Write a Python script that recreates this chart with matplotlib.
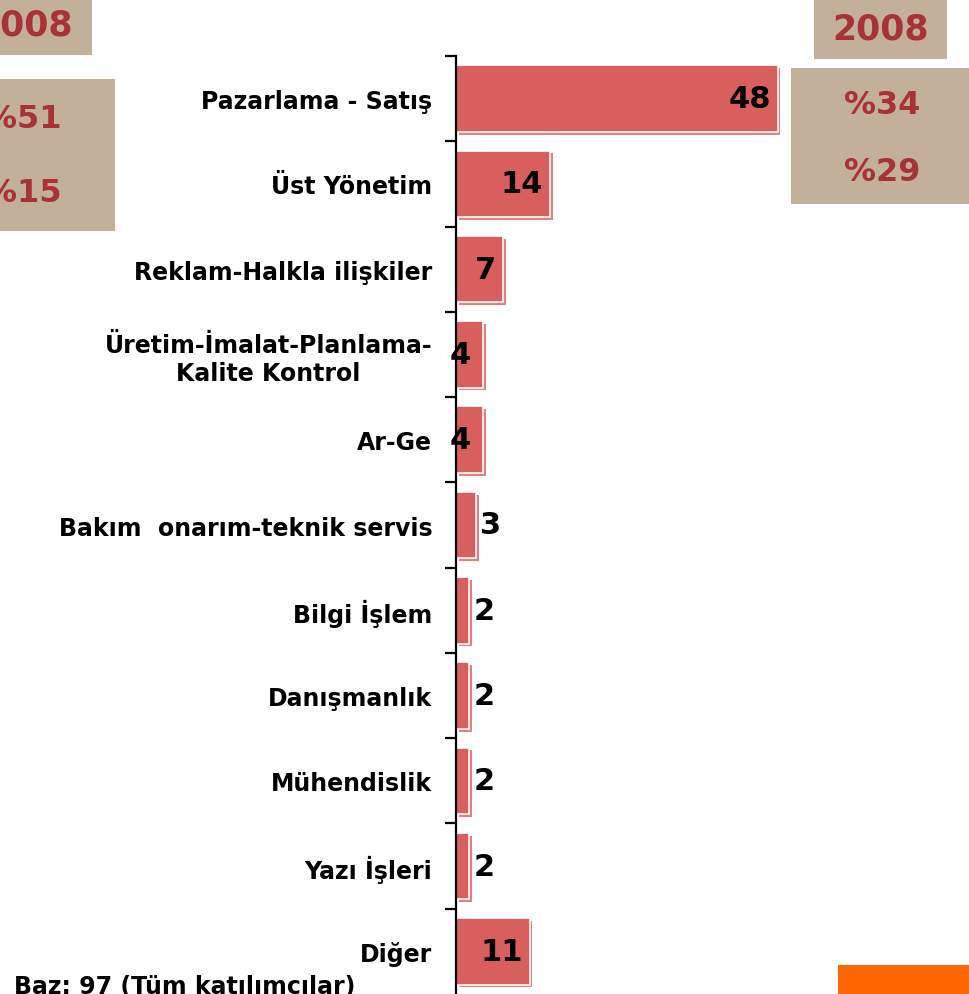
import numpy as np
import matplotlib
matplotlib.use("Agg")
import matplotlib.pyplot as plt
import matplotlib.patheffects as pe
from matplotlib.patches import Rectangle

# veri
kategoriler = ["Pazarlama - Satış", "Üst Yönetim", "Reklam-Halkla ilişkiler",
               "Üretim-İmalat-Planlama-\nKalite Kontrol", "Ar-Ge",
               "Bakım  onarım-teknik servis", "Bilgi İşlem", "Danışmanlık",
               "Mühendislik", "Yazı İşleri", "Diğer"]
degerler = [48, 14, 7, 4, 4, 3, 2, 2, 2, 2, 11]

sol_yil = "2008"
sol_yuzde = ["%51", "%15"]
sag_yil = "2008"
sag_yuzde = ["%34", "%29"]
baz_metni = "Baz: 97 (Tüm katılımcılar)"

W, H = 970, 995
BAR = "#d95e5e"
TAN = "#c2b09a"
KIRMIZI = "#a83236"

plt.rcParams['font.family'] = ['DejaVu Sans']

fig = plt.figure(figsize=(W / 100, H / 100), dpi=100)
fig.patch.set_facecolor("white")


def fx(px):
    return px / W


def fy(py):
    return 1 - py / H


# ana grafik
ax = fig.add_axes([fx(456), fy(995), fx(402), (995 - 57) / H])
y = np.arange(len(kategoriler))
bars = ax.barh(y, degerler, height=0.78, color=BAR, edgecolor="white", linewidth=1.2)
for b in bars:
    b.set_path_effects([pe.SimplePatchShadow(offset=(2, -2), shadow_rgbFace="#e57f7f", alpha=1.0),
                        pe.Normal()])

ax.set_xlim(0, 60)
ax.set_ylim(len(kategoriler) - 0.5, -0.5)
for s in ["top", "right", "bottom"]:
    ax.spines[s].set_visible(False)
ax.spines["left"].set_linewidth(1.6)
ax.set_xticks([])
ax.set_yticks(np.arange(len(kategoriler)) - 0.5)
ax.set_yticklabels([])
ax.tick_params(axis="y", which="major", length=8, width=1.6, direction="out")
ax.set_yticks(y, minor=True)
ax.set_yticklabels(kategoriler, minor=True, fontsize=17, fontweight="bold",
                   multialignment="center")
ax.tick_params(axis="y", which="minor", length=0, pad=17)

for yi, v in zip(y, degerler):
    if v >= 7:
        ax.text(v - 1.0, yi, str(v), ha="right", va="center", fontsize=22, fontweight="bold")
    elif v == 4:
        ax.text(-1.0, yi, str(v), ha="left", va="center", fontsize=22, fontweight="bold")
    else:
        ax.text(v + 0.6, yi, str(v), ha="left", va="center", fontsize=22, fontweight="bold")

# kutular
fig.patches.append(Rectangle((fx(0), fy(56)), fx(92), 56 / H, transform=fig.transFigure,
                             facecolor=TAN, edgecolor="none", zorder=0))
fig.patches.append(Rectangle((fx(0), fy(232)), fx(115), (232 - 80) / H, transform=fig.transFigure,
                             facecolor=TAN, edgecolor="none", zorder=0))
fig.patches.append(Rectangle((fx(814), fy(60)), fx(133), 60 / H, transform=fig.transFigure,
                             facecolor=TAN, edgecolor="none", zorder=0))
fig.patches.append(Rectangle((fx(791), fy(205)), fx(179), (205 - 69) / H, transform=fig.transFigure,
                             facecolor=TAN, edgecolor="none", zorder=0))
fig.patches.append(Rectangle((fx(838), fy(995)), fx(132), 29 / H, transform=fig.transFigure,
                             facecolor="#ff6600", edgecolor="none", zorder=0))

fig.text(fx(73), fy(25), sol_yil, ha="right", va="center", fontsize=25, fontweight="bold", color=KIRMIZI)
for t, py in zip(sol_yuzde, [120, 193]):
    fig.text(fx(62), fy(py), t, ha="right", va="center", fontsize=23, fontweight="bold", color=KIRMIZI)
fig.text(fx(881), fy(30), sag_yil, ha="center", va="center", fontsize=25, fontweight="bold", color=KIRMIZI)
for t, py in zip(sag_yuzde, [105, 173]):
    fig.text(fx(882), fy(py), t, ha="center", va="center", fontsize=23, fontweight="bold", color=KIRMIZI)

fig.text(fx(14), fy(987), baz_metni, ha="left", va="center", fontsize=17, fontweight="bold")

fig.savefig("out.png", dpi=100)
